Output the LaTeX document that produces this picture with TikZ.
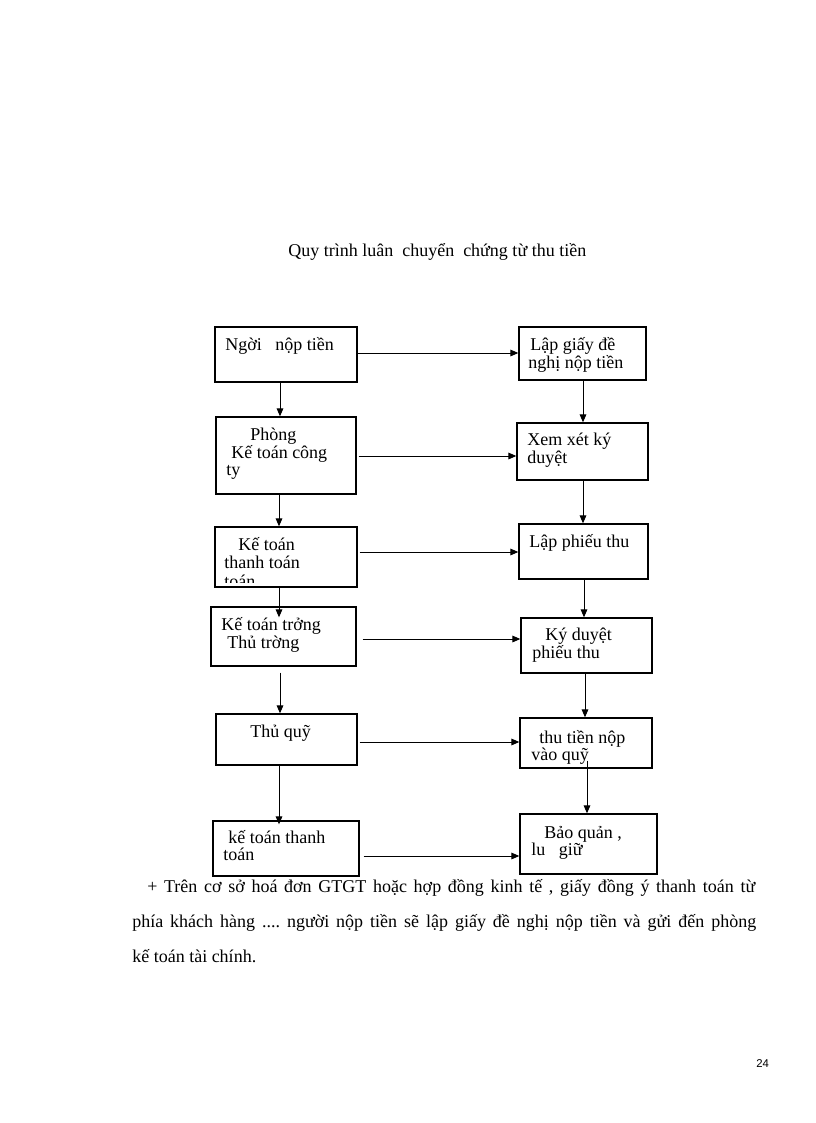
\documentclass[tikz,border=0pt]{standalone}
\usepackage{fontspec}
\setmainfont{Liberation Serif}
\newfontfamily\pgnumfont{Liberation Sans}
\usetikzlibrary{arrows.meta,calc,fit}
\frenchspacing
\newcommand\mkbox[3]{\path (#2) coordinate (#1a) (#3) coordinate (#1b); \node[box, fit=(#1a)(#1b)] (#1) {};}
\begin{document}
\begin{tikzpicture}[x=0.75pt,y=-0.75pt,
  box/.style={draw, line width=1pt, inner sep=0pt, rectangle},
  txt/.style={anchor=base west, inner sep=0pt, font=\fontsize{13.5}{16}\selectfont},
  arr/.style={line width=0.75pt, -{Triangle[length=6pt,width=5pt]}},
]
\useasboundingbox (0,0) rectangle (816,1123);

% title
\node[txt] (title) at (288,256) {Quy trình luân\ \ chuyển\ \ chứng từ thu tiền};

% boxes
\mkbox{L1}{215,327}{357,382}
\mkbox{L2}{216,417}{356,494}
\mkbox{L3}{215,527}{357,587}
\mkbox{L4}{211,607}{356,666}
\mkbox{L5}{216,714}{357,765}
\mkbox{L6}{213,821}{359,876}
\mkbox{R1}{519,327}{646,380}
\mkbox{R2}{517,423}{648,480}
\mkbox{R3}{519,524}{648,579}
\mkbox{R4}{521,618}{652,673}
\mkbox{R5}{520,718}{652,768}
\mkbox{R6}{520,814}{657,874}

% texts
\node[txt] (L1t1) at (225,350) {Ngời\ \ \ nộp tiền};
\node[txt] (L2t1) at (250,440) {Phòng};
\node[txt] (L2t2) at (231,458) {Kế toán công};
\node[txt] (L2t3) at (226,475) {ty};
\node[txt] (L3t1) at (238,550) {Kế toán};
\node[txt] (L3t2) at (224,568) {thanh toán};
\begin{scope}
  \clip (216,528) rectangle (356,582);
  \node[txt] (L3t3) at (224,587) {toán};
\end{scope}
\node[txt] (L4t1) at (221,630) {Kế toán trởng};
\node[txt] (L4t2) at (227,648) {Thủ trờng};
\node[txt] (L5t1) at (250,737) {Thủ quỹ};
\node[txt] (L6t1) at (228,843) {kế toán thanh};
\node[txt] (L6t2) at (223,860) {toán};
\node[txt] (R1t1) at (530,350) {Lập giấy đề};
\node[txt] (R1t2) at (528,368) {nghị nộp tiền};
\node[txt] (R2t1) at (527,445) {Xem xét ký};
\node[txt] (R2t2) at (527,463) {duyệt};
\node[txt] (R3t1) at (529,547) {Lập phiếu thu};
\node[txt] (R4t1) at (545,640) {Ký duyệt};
\node[txt] (R4t2) at (532,658) {phiếu thu};
\node[txt] (R5t1) at (539,743) {thu tiền nộp};
\node[txt] (R5t2) at (531,760) {vào quỹ};
\node[txt] (R6t1) at (544,838) {Bảo quản ,};
\node[txt] (R6t2) at (531,855) {lu\ \ \ giữ};

% horizontal arrows
\draw[arr] ($(L1.east)+(0,-1.5)$) coordinate (h1) -- (h1 -| R1.west);
\draw[arr] ($(L2.east)+(2,0.5)$) coordinate (h2) -- (h2 -| R2.west);
\draw[arr] ($(L3.east)+(2,-5)$) coordinate (h3) -- (h3 -| R3.west);
\draw[arr] ($(L4.east)+(6,2.5)$) coordinate (h4) -- (h4 -| R4.west);
\draw[arr] ($(L5.east)+(2,2.5)$) coordinate (h5) -- (h5 -| R5.west);
\draw[arr] ($(L6.east)+(4,7.5)$) coordinate (h6) -- (h6 -| R6.west);

% vertical guide coordinates
\coordinate (xa) at (280,0);
\coordinate (xb) at (279,0);
\coordinate (xc) at (583,0);
\coordinate (xd) at (584,0);
\coordinate (xe) at (585,0);
\coordinate (xf) at (587,0);

% left vertical arrows
\draw[arr] (L1.south -| xa) -- (L2.north -| xa);
\draw[arr] (L2.south -| xb) -- (L3.north -| xb);
\draw[arr] (L3.south -| xb) -- ($(L4.north -| xb)+(0,11)$);
\draw[arr] ($(L4.south -| xa)+(0,6)$) -- (L5.north -| xa);
\draw[arr] (L5.south -| xb) -- ($(L6.north -| xb)+(0,4)$);

% right vertical arrows
\draw[arr] (R1.south -| xc) -- (R2.north -| xc);
\draw[arr] (R2.south -| xc) -- (R3.north -| xc);
\draw[arr] (R3.south -| xd) -- (R4.north -| xd);
\draw[arr] (R4.south -| xe) -- (R5.north -| xe);
\draw[arr] ($(R5.south -| xf)+(0,-8)$) -- (R6.north -| xf);

% paragraph
\node[txt] (p1) at (147,892) {\makebox[456pt][s]{+ Trên cơ sở hoá đơn GTGT hoặc hợp đồng kinh tế , giấy đồng ý thanh toán từ}};
\node[txt] (p2) at (132,927) {\makebox[468pt][s]{phía khách hàng .... người nộp tiền sẽ lập giấy đề nghị nộp tiền và gửi đến phòng}};
\node[txt] (p3) at (132,962) {kế toán tài chính.};

% page number
\node[anchor=base west, inner sep=0pt, font=\pgnumfont\fontsize{8.5}{10}\selectfont] (pg) at (756,1067) {24};
\end{tikzpicture}
\end{document}
